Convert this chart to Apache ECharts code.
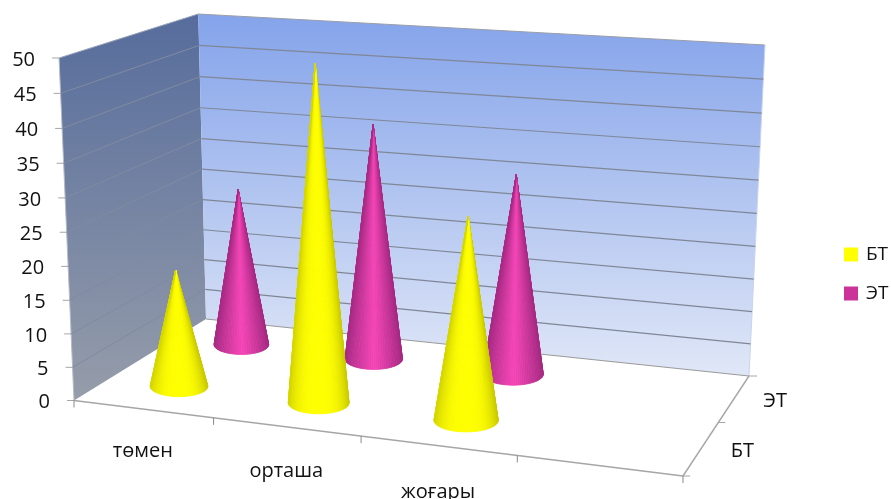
<!DOCTYPE html>
<html><head><meta charset="utf-8">
<style>html,body{margin:0;padding:0;background:#fff}#c{width:891px;height:499px}</style>
<script src="https://cdn.jsdelivr.net/npm/echarts@6/dist/echarts.min.js"></script>
</head><body><div id="c"></div>
<script>
const categories = ['төмен', 'орташа', 'жоғары', ''];
const rowNames = ['БТ', 'ЭТ'];
const btValues = [17.7, 49.4, 29.4];
const etValues = [24.9, 36.6, 30.6];
const yTicks = [0, 5, 10, 15, 20, 25, 30, 35, 40, 45, 50];

const FONT = '"Open Sans","Noto Sans",sans-serif';
const floorQuad = [[74,400.5],[683,476],[749,376],[206,319]];
const topQuad = [[58,58],[698,95],[765,45],[199,14]];
const vanish = [394,7719];
const NC = categories.length, NR = rowNames.length;

function homography(q){
  const [[x0,y0],[x1,y1],[x2,y2],[x3,y3]] = q;
  const dx1=x1-x2,dx2=x3-x2,sx=x0-x1+x2-x3,dy1=y1-y2,dy2=y3-y2,sy=y0-y1+y2-y3;
  const d=dx1*dy2-dx2*dy1;
  const g=(sx*dy2-dx2*sy)/d,h=(dx1*sy-sx*dy1)/d;
  const a=x1-x0+g*x1,b=x3-x0+h*x3,e=y1-y0+g*y1,f=y3-y0+h*y3;
  return (u,v)=>{const w=g*u+h*v+1;return [(a*u+b*v+x0)/w,(e*u+f*v+y0)/w];};
}
const floorH = homography(floorQuad), topH = homography(topQuad);
function P(u,v,t){
  const a=floorH(u/NC,v/NR);
  if(!t) return a;
  const b=topH(u/NC,v/NR);
  const y=a[1]+(b[1]-a[1])*t;
  const x=a[0]+(a[0]-vanish[0])/(a[1]-vanish[1])*(y-a[1]);
  return [x,y];
}
function frac(api,val){
  const y0=api.coord([0,yTicks[0]])[1], y1=api.coord([0,yTicks[yTicks.length-1]])[1];
  const t=(y0-api.coord([0,val])[1])/(y0-y1);
  return t-0.035*t*(1-t);
}
function hex(c){return [1,3,5].map(i=>parseInt(c.substr(i,2),16));}
function mix(a,b,f){const A=hex(a),B=hex(b);return 'rgb('+A.map((x,i)=>Math.round(x+(B[i]-x)*f)).join(',')+')';}

const GRID_BACK='#7f8797', GRID_LEFT='#808ba0', AXIS='#a6a6a6';

function seg(p,q,stroke,w){return {type:'line',shape:{x1:p[0],y1:p[1],x2:q[0],y2:q[1]},style:{stroke:stroke,lineWidth:w}};}
function renderWalls(params,api){
  const a=P(0,0),b=P(0,NR),c=P(NC,NR),d=P(NC,0),at=P(0,0,1),bt=P(0,NR,1),ct=P(NC,NR,1),m=P(NC,1);
  return {type:'group',children:[
    {type:'polygon',shape:{points:[at,bt,b,a]},style:{fill:new echarts.graphic.LinearGradient(0,0,0,1,[{offset:0,color:'#566c9c'},{offset:1,color:'#969daa'}])}},
    {type:'polygon',shape:{points:[bt,ct,c,b]},style:{fill:new echarts.graphic.LinearGradient(0,0,0,1,[{offset:0,color:'#84a3ea'},{offset:1,color:'#e0e7f7'}])}},
    seg(at,bt,'#9aa5bb',1), seg(at,a,'#b5bcc8',1), seg(bt,ct,'#9a9ea8',1.2), seg(c,ct,'#c9d4ee',1), seg(b,c,'#9a9a9a',1.2),
    seg(a,d,AXIS,1.4), seg(d,c,AXIS,1.4),
    seg(c,[c[0]+8,c[1]],AXIS,1), seg(m,[m[0]+7,m[1]],AXIS,1), seg(d,[d[0]+7,d[1]],AXIS,1)
  ]};
}
function renderTick(params,api){
  const val=api.value(1), t=frac(api,val);
  const f=P(0,0,t),b=P(0,NR,t),r=P(NC,NR,t);
  const kids=[
    seg([f[0]-7,f[1]],f,AXIS,1),
    {type:'text',x:f[0]-24,y:f[1]+2,style:{text:String(val),font:'20px '+FONT,fill:'#111',textAlign:'right',textVerticalAlign:'middle'}}
  ];
  if(val!==yTicks[0]&&val!==yTicks[yTicks.length-1]){
    kids.push(seg(f,b,GRID_LEFT,1));
    kids.push(seg(b,r,GRID_BACK,1.2));
  }
  return {type:'group',children:kids};
}
function renderCat(params,api){
  const i=api.value(0), q=P(i+1,0), m=P(i+.5,0), kids=[
    seg(q,[q[0],q[1]+7],'#8a8a8a',1),
    {type:'text',x:m[0],y:m[1]+42+i*2.5,style:{text:categories[i],font:'20px '+FONT,fill:'#111',textAlign:'center',textVerticalAlign:'middle'}}
  ];
  if(i===0) kids.push(seg(P(0,0),[P(0,0)[0],P(0,0)[1]+7],'#8a8a8a',1));
  return {type:'group',children:kids};
}
function renderRow(params,api){
  const r=api.value(2), m=P(NC,r+.5);
  return {type:'text',x:m[0]+41,y:m[1]+3,style:{text:rowNames[r],font:'20px '+FONT,fill:'#111',textAlign:'center',textVerticalAlign:'middle'}};
}
function coneRenderer(row,center,edgeL,edgeR,pow){
  return function(params,api){
    const i=api.value(0), val=api.value(1);
    const u=i+.513, v=row+.5;
    const c=P(u,v), tip=P(u,v,frac(api,val));
    const L=P(u-.5,v),R=P(u+.5,v);
    const a=Math.hypot(R[0]-L[0],R[1]-L[1])*0.21, b=a*0.36;
    const kids=[], N=48;
    for(let k=0;k<N;k++){
      const t0=Math.PI*(-0.04+1.08*k/N), t1=Math.PI*(-0.04+1.08*(k+1)/N), tm=(t0+t1)/2;
      const s=Math.cos(tm), f=Math.pow(Math.abs(s),pow);
      const col=mix(center,s>0?edgeR:edgeL,f);
      kids.push({type:'polygon',shape:{points:[tip,[c[0]+a*Math.cos(t0),c[1]+b*Math.sin(t0)],[c[0]+a*Math.cos(t1),c[1]+b*Math.sin(t1)]]},
        style:{fill:col,stroke:col,lineWidth:0.8,lineJoin:'round'}});
    }
    return {type:'group',children:kids};
  };
}
const option={
  animation:false,
  backgroundColor:'#fff',
  grid:{left:58,right:120,top:58,bottom:98},
  xAxis:{type:'category',data:categories,show:false},
  yAxis:{type:'value',min:yTicks[0],max:yTicks[yTicks.length-1],interval:5,show:false},
  legend:{orient:'vertical',left:844,top:245,itemWidth:14,itemHeight:14,itemGap:20,padding:0,
    data:rowNames.map(n=>({name:n,icon:'rect'})),selectedMode:false,
    textStyle:{fontFamily:FONT,fontSize:19,color:'#111',padding:[0,0,0,3]}},
  series:[
    {type:'custom',name:'walls',z:1,silent:true,renderItem:renderWalls,data:[[0,yTicks[yTicks.length-1]]],encode:{x:0,y:1}},
    {type:'custom',name:'ticks',z:2,silent:true,renderItem:renderTick,data:yTicks.map(t=>[0,t]),encode:{x:0,y:1}},
    {type:'custom',name:'cats',z:2,silent:true,renderItem:renderCat,data:categories.map((_,i)=>[i,0]),encode:{x:0,y:1}},
    {type:'custom',name:'rows',z:2,silent:true,renderItem:renderRow,data:rowNames.map((_,r)=>[0,0,r]),encode:{x:0,y:1}},
    {type:'custom',name:rowNames[1],z:3,itemStyle:{color:'#cc3399'},renderItem:coneRenderer(1,'#f545b6','#a92a85','#a52882',1.1),data:etValues.map((v,i)=>[i,v]),encode:{x:0,y:1}},
    {type:'custom',name:rowNames[0],z:4,itemStyle:{color:'#ffff00'},renderItem:coneRenderer(0,'#ffff00','#d6d600','#c8c800',3),data:btValues.map((v,i)=>[i,v]),encode:{x:0,y:1}}
  ]
};
echarts.init(document.getElementById('c'),null,{renderer:'canvas'}).setOption(option);
</script></body></html>
